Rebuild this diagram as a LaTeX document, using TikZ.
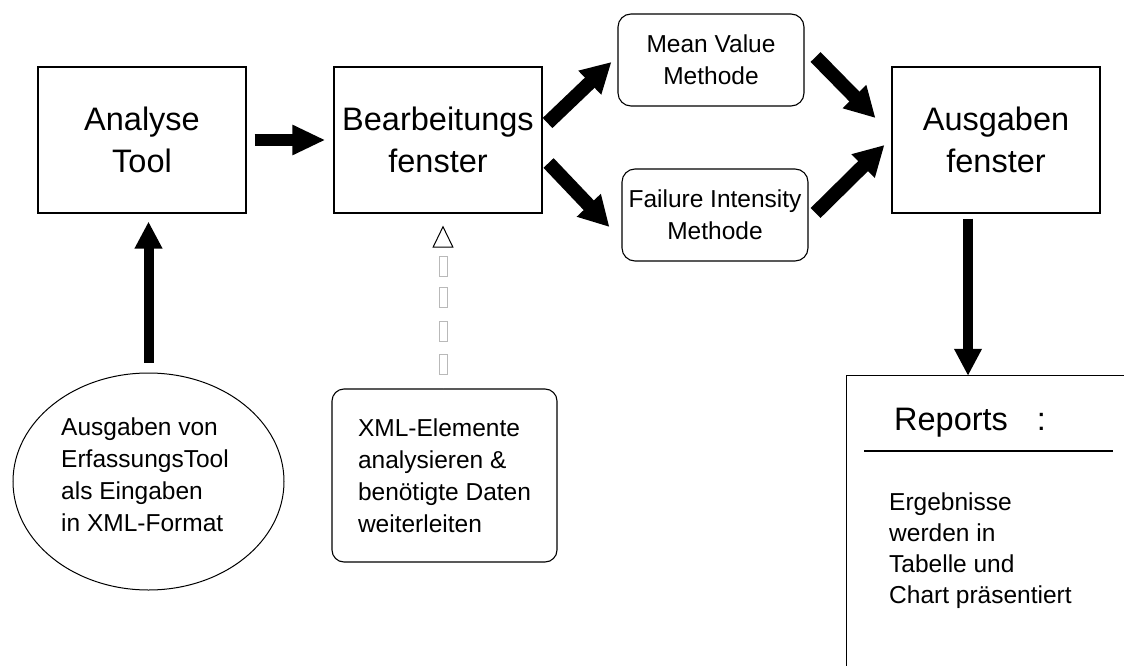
\documentclass[tikz,border=0pt]{standalone}
\usepackage{fontspec}
\setmainfont{Liberation Sans}
\usetikzlibrary{arrows.meta,calc,decorations.markings,shapes.geometric}
\begin{document}
\begin{tikzpicture}[x=1pt,y=1pt,
  big/.style={font=\fontsize{32.5}{42}\selectfont},
  small/.style={font=\fontsize{24.5}{32}\selectfont},
  box/.style={draw, line width=1.1pt, inner sep=0pt, minimum width=208pt, minimum height=146pt, align=center, big},
  rbox/.style={draw, line width=1.1pt, rounded corners=13pt, inner sep=0pt, align=center, small},
  hbarrow/.style={line width=12pt, -{Triangle[length=33pt,width=28pt]}},
  dgarrow/.style={line width=14pt, -{Triangle[length=30pt,width=31pt]}},
  varrow/.style={line width=10pt, -{Triangle[length=27pt,width=26pt]}},
  dashconn/.style={draw=white, line width=0.3pt,
    -{Triangle[open,length=22pt,width=21pt,line width=1pt,color=black]},
    postaction={decorate},
    decoration={markings,
      mark=at position 23.5pt with {\draw[gray!55, line width=1pt] (-10pt,-4pt) rectangle (10pt,4pt);},
      mark=at position 56.5pt with {\draw[gray!55, line width=1pt] (-10pt,-4pt) rectangle (10pt,4pt);},
      mark=at position 90.5pt with {\draw[gray!55, line width=1pt] (-10pt,-4pt) rectangle (10pt,4pt);},
      mark=at position 122pt with {\draw[gray!55, line width=1pt] (-10pt,-4pt) rectangle (10pt,4pt);}}}
]
\useasboundingbox (0,0) rectangle (1124,-666);
\fill[white] (0,0) rectangle (1124,-666);

% main boxes
\node[box] (A) at (142,-140) {Analyse\\Tool};
\node[box] (B) at (438,-140) {Bearbeitungs\\fenster};
\node[box] (O) at (996,-140) {Ausgaben\\fenster};
\node[rbox, minimum width=186pt, minimum height=92pt] (M) at (711,-60) {Mean Value\\Methode};
\node[rbox, minimum width=186pt, minimum height=92pt] (F) at (715,-215) {Failure Intensity\\Methode};

% lower elements
\node[draw, ellipse, line width=1pt, inner sep=0pt, minimum width=271pt, minimum height=217pt] (E) at (148.5,-481.5) {};
\node[align=left, small, inner sep=0pt] (ET) at (145,-475)
      {Ausgaben von\\ErfassungsTool\\als Eingaben\\in XML-Format};
\node[rbox, rounded corners=12pt, minimum width=225pt, minimum height=173pt, align=left] (X) at (444.5,-475.5)
      {XML-Elemente\\analysieren \&\\benötigte Daten\\weiterleiten};

% reports box (cut by the picture's edges)
\node[inner sep=0pt, minimum width=277pt, minimum height=290pt] (R) at (985.5,-521) {};
\draw[line width=1.1pt] (R.north east) -| (R.south west);
\node[anchor=west, big, inner sep=0pt] (RH) at (894,-423) {Reports\hspace{29pt}:};
\draw[line width=1.1pt] (864,-451) -- (1113,-451);
\node[anchor=north west, align=left, inner sep=0pt, font=\fontsize{24.5}{31}\selectfont] (RB) at (889,-493)
      {Ergebnisse\\werden in\\Tabelle und\\Chart präsentiert};

% connectors
\draw[hbarrow, shorten <=8pt, shorten >=8pt] (A.east) -- (B.west);
\draw[dgarrow] ($(B.east)+(5,17)$) -- ($(M.west)+(-6,-2)$);
\draw[dgarrow] ($(B.east)+(6,-23)$) -- ($(F.west)+(-12,-12)$);
\draw[dgarrow] ($(M.east)+(11,3)$) -- ($(O.west)+(-16,22)$);
\draw[dgarrow] ($(F.east)+(7,2)$) -- ($(O.west)+(-7,-5)$);
\draw[varrow, shorten <=10pt, shorten >=8pt] (E.north) -- (E.north |- A.south);
\draw[varrow, shorten <=5pt] ([xshift=-28pt]O.south) -- ([xshift=-28pt]O.south |- R.north);
\draw[dashconn, shorten >=12pt] ([xshift=-1.5pt]X.north) -- ([xshift=-1.5pt]X.north |- B.south);
\end{tikzpicture}
\end{document}
